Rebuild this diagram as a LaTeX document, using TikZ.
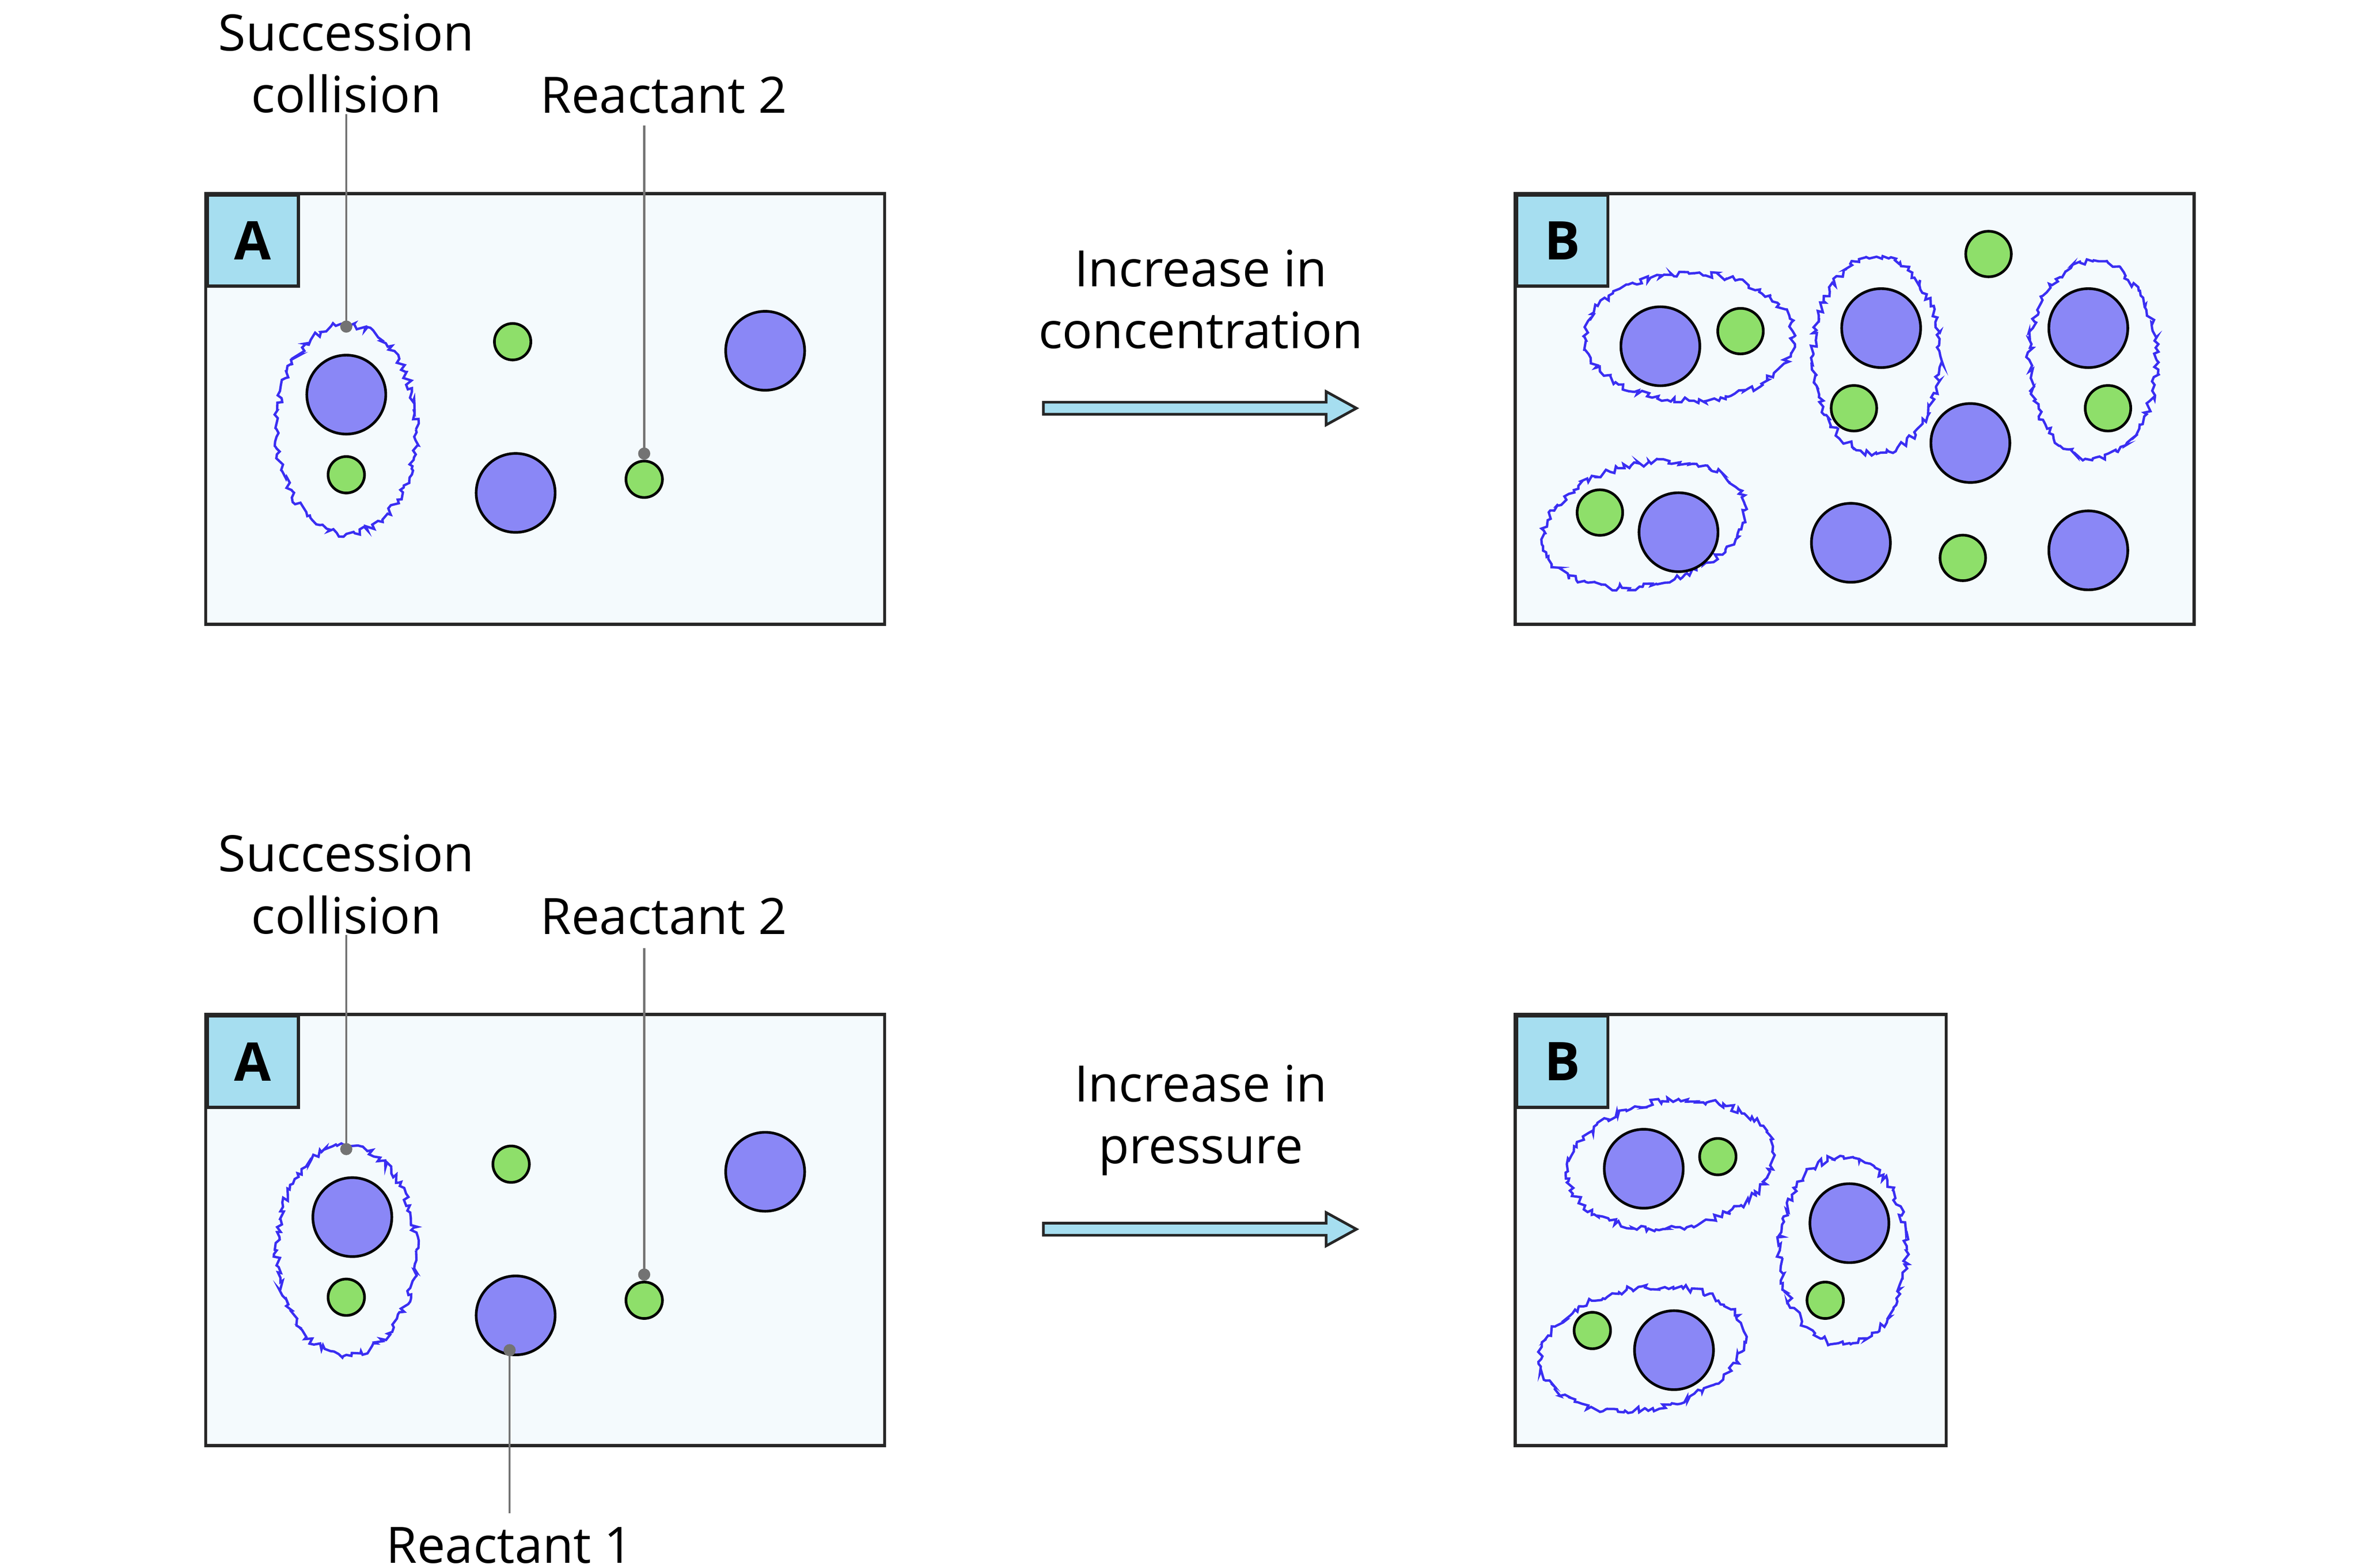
\documentclass[tikz,border=0pt]{standalone}
\usepackage{fontspec}
\setmainfont{Open Sans}
\usetikzlibrary{decorations.pathmorphing}
\definecolor{pbg}{HTML}{F4FAFD}
\definecolor{lbl}{HTML}{A6DEF0}
\definecolor{purp}{HTML}{8A87F6}
\definecolor{grn}{HTML}{8EDF6A}
\definecolor{wig}{HTML}{3A2EF2}
\begin{document}
\begin{tikzpicture}[x=0.0996mm,y=-0.0996mm,
  panel/.style={draw=black!85,fill=pbg,line width=0.6pt},
  tag/.style={draw=black!85,fill=lbl,line width=0.6pt,minimum size=6mm,inner sep=0pt,font=\bfseries\fontsize{10}{12}\selectfont,anchor=north west},
  P/.style={circle,draw=black,fill=purp,line width=0.5pt,minimum size=5.2mm,inner sep=0pt},
  G/.style={circle,draw=black,fill=grn,line width=0.5pt,minimum size=2.4mm,inner sep=0pt},
  GB/.style={G,minimum size=3mm},
  wg/.style={draw=wig,line width=0.45pt,decorate,decoration={random steps,segment length=0.22mm,amplitude=0.22mm}},
  txt/.style={align=center,font=\fontsize{9.4}{11.6}\selectfont,inner sep=0pt},
  call/.style={draw=black!55,line width=0.4pt},
  dot/.style={circle,fill=black!55,minimum size=0.8mm,inner sep=0pt},
  arr/.style={draw=black!85,fill=lbl,line width=0.5pt,line join=miter}]
\useasboundingbox (0,0) rectangle (1560,1037);
\pgfmathsetseed{7}
% ---------- top A
\draw[panel] (136,128) rectangle (585,413);
\node[tag] (tA1) at (136,128) {A};
\draw[wg] (229,284) ellipse [x radius=46,y radius=69];
\node[P] (a1p1) at (229,261) {};
\node[G] (a1g1) at (229,314) {};
\node[G] (a1g2) at (339,226) {};
\node[P] (a1p2) at (341,326) {};
\node[P] (a1p3) at (506,232) {};
\node[G] (a1g3) at (426,317) {};
\node[txt] (s1) at (229,42) {Succession\\collision};
\node[txt] (r21) at (439,63) {Reactant 2};
\node[dot] (d1) at (229,216) {};
\node[dot] (d2) at (426,300) {};
\draw[call] (s1.south) -- (d1.center);
\draw[call] (426,83) -- (d2.center);
% arrow top
\node[txt] (t1) at (794,198) {Increase in\\concentration};
\draw[arr] (690,266) -- (877,266) -- (877,259) -- (897,270) -- (877,281) -- (877,274) -- (690,274) -- cycle;
% ---------- top B
\draw[panel] (1002,128) rectangle (1451,413);
\node[tag] (tB1) at (1002,128) {B};
\draw[wg] (1117,223) ellipse [x radius=69,y radius=42];
\node[P] (b1p1) at (1098,229) {};
\node[GB] (b1g1) at (1151,219) {};
\draw[wg] (1241,235) ellipse [x radius=42,y radius=65];
\node[P] (b1p2) at (1244,217) {};
\node[GB] (b1g2) at (1226,270) {};
\node[GB] (b1g3) at (1315,168) {};
\draw[wg] (1384,238) ellipse [x radius=42,y radius=65];
\node[P] (b1p3) at (1381,217) {};
\node[GB] (b1g4) at (1394,270) {};
\node[P] (b1p4) at (1303,293) {};
\draw[wg,rotate around={12:(1087,347)}] (1087,347) ellipse [x radius=68,y radius=40];
\node[GB] (b1g5) at (1058,339) {};
\node[P] (b1p5) at (1110,352) {};
\node[P] (b1p6) at (1224,359) {};
\node[GB] (b1g6) at (1298,369) {};
\node[P] (b1p7) at (1381,364) {};
% ---------- bottom A
\draw[panel] (136,671) rectangle (585,956);
\node[tag] (tA2) at (136,671) {A};
\draw[wg] (229,827) ellipse [x radius=46,y radius=69];
\node[P] (a2p1) at (233,805) {};
\node[G] (a2g1) at (229,858) {};
\node[G] (a2g2) at (338,770) {};
\node[P] (a2p2) at (341,870) {};
\node[P] (a2p3) at (506,775) {};
\node[G] (a2g3) at (426,860) {};
\node[txt] (s2) at (229,585) {Succession\\collision};
\node[txt] (r22) at (439,606) {Reactant 2};
\node[txt] (r12) at (337,1022) {Reactant 1};
\node[dot] (d3) at (229,760) {};
\node[dot] (d4) at (426,843) {};
\node[dot] (d5) at (337,893) {};
\draw[call] (s2.south) -- (d3.center);
\draw[call] (426,627) -- (d4.center);
\draw[call] (d5.center) -- (337,1001);
% arrow bottom
\node[txt] (t2) at (794,741) {Increase in\\pressure};
\draw[arr] (690,809) -- (877,809) -- (877,802) -- (897,813) -- (877,824) -- (877,817) -- (690,817) -- cycle;
% ---------- bottom B
\draw[panel] (1002,671) rectangle (1287,956);
\node[tag] (tB2) at (1002,671) {B};
\draw[wg,rotate around={8:(1105,770)}] (1105,770) ellipse [x radius=68,y radius=42];
\node[P] (b2p1) at (1087,773) {};
\node[G] (b2g1) at (1136,765) {};
\draw[wg] (1219,827) ellipse [x radius=42,y radius=62];
\node[P] (b2p2) at (1223,809) {};
\node[G] (b2g2) at (1207,860) {};
\draw[wg,rotate around={10:(1086,892)}] (1086,892) ellipse [x radius=68,y radius=40];
\node[G] (b2g3) at (1053,880) {};
\node[P] (b2p3) at (1107,893) {};
\end{tikzpicture}
\end{document}
